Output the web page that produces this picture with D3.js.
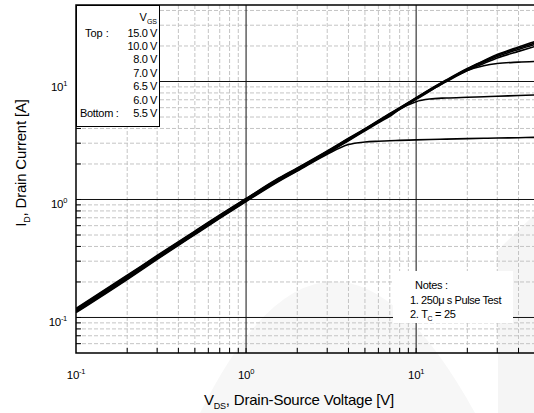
<!DOCTYPE html>
<html>
<head>
<meta charset="utf-8">
<script src="https://cdn.jsdelivr.net/npm/d3@7"></script>
<style>
    body { margin: 0; background: #fff; }
    svg text { font-family: "Liberation Sans", Arial, sans-serif; fill: #000; }
</style>
</head>
<body>
<div id="chart"></div>
<script>

// drain-source voltage sample points [V]
const vds = [0.1, 0.2, 0.3, 0.5, 0.7, 1, 1.5, 2, 3, 4, 5, 6, 7, 8, 10, 12, 15, 20, 25, 30, 40, 50];

// drain current [A] for each gate voltage
const idVgs150 = [0.119, 0.228, 0.335, 0.54, 0.74, 1.02, 1.47, 1.85, 2.58, 3.3, 3.98, 4.68, 5.35, 6.0, 7.3, 8.55, 10.3, 12.9, 15.0, 16.9, 19.6, 21.8];
const idVgs100 = [0.1175, 0.225, 0.331, 0.534, 0.731, 1.01, 1.455, 1.83, 2.55, 3.27, 3.95, 4.64, 5.31, 5.96, 7.25, 8.5, 10.2, 12.8, 14.85, 16.7, 19.2, 21.2];
const idVgs80 = [0.116, 0.222, 0.327, 0.528, 0.723, 1.0, 1.44, 1.81, 2.53, 3.24, 3.92, 4.6, 5.27, 5.92, 7.2, 8.45, 10.1, 12.65, 14.6, 16.3, 18.7, 20.6];
const idVgs70 = [0.1145, 0.219, 0.323, 0.522, 0.715, 0.99, 1.425, 1.79, 2.5, 3.21, 3.89, 4.57, 5.23, 5.87, 7.15, 8.35, 9.95, 12.4, 14.2, 15.8, 18.0, 19.8];
const idVgs65 = [0.113, 0.216, 0.319, 0.516, 0.707, 0.98, 1.41, 1.775, 2.48, 3.18, 3.86, 4.53, 5.18, 5.82, 7.05, 8.25, 10.05, 12.4, 13.6, 14.2, 14.6, 14.8];
const idVgs60 = [0.1115, 0.213, 0.315, 0.51, 0.699, 0.97, 1.395, 1.76, 2.46, 3.15, 3.82, 4.47, 5.08, 5.8, 6.75, 7.1, 7.25, 7.35, 7.42, 7.5, 7.6, 7.7];
const idVgs55 = [0.11, 0.21, 0.311, 0.504, 0.691, 0.96, 1.38, 1.74, 2.42, 2.92, 3.07, 3.12, 3.15, 3.17, 3.2, 3.22, 3.25, 3.28, 3.3, 3.32, 3.34, 3.36];

const curves = [idVgs150, idVgs100, idVgs80, idVgs70, idVgs65, idVgs60, idVgs55];

// legend / tick texts
const legendLabels = ["15.0 V", "10.0 V", "8.0 V", "7.0 V", "6.5 V", "6.0 V", "5.5 V"];
const xTickValues = [0.1, 1, 10];
const xTickExponents = ["-1", "0", "1"];
const yTickValues = [0.1, 1, 10];
const yTickExponents = ["-1", "0", "1"];


let svg = d3.select("#chart").append("svg")
    .attr("width", 534)
    .attr("height", 413);

// faint watermark behind everything
svg.append("path")
    .attr("d", "M 200 413 Q 330 150 475 413 Z")
    .attr("fill", "#f7f7f7");
svg.append("path")
    .attr("d", "M 498 413 L 498 250 L 534 215 L 534 413 Z")
    .attr("fill", "#f5f5f5");

let plot = {left: 76, top: 5, right: 535, bottom: 353};

let x = d3.scaleLog()
    .domain([0.1, 50])
    .range([plot.left, plot.right]);

let y = d3.scaleLog()
    .domain([0.05, 44.5])
    .range([plot.bottom, plot.top]);

// minor grid positions (2..9 in each decade)
let xMinor = [];
[0.1, 1, 10].forEach(d => {
    for (let k = 2; k <= 9; k++) if (k * d < 50) xMinor.push(k * d);
});
let yMinor = [];
[0.01, 0.1, 1, 10].forEach(d => {
    for (let k = 2; k <= 9; k++) if (k * d > 0.05 && k * d < 44.5) yMinor.push(k * d);
});

let grid = svg.append("g").attr("class", "grid");

grid.selectAll(".xminor")
    .data(xMinor)
    .enter().append("line")
    .attr("x1", d => x(d)).attr("x2", d => x(d))
    .attr("y1", plot.top).attr("y2", plot.bottom)
    .attr("stroke", "#c4c4c4")
    .attr("stroke-dasharray", "4,2");

grid.selectAll(".yminor")
    .data(yMinor)
    .enter().append("line")
    .attr("x1", plot.left).attr("x2", plot.right)
    .attr("y1", d => y(d)).attr("y2", d => y(d))
    .attr("stroke", "#c4c4c4")
    .attr("stroke-dasharray", "4,2");

grid.selectAll(".xmajor")
    .data([1, 10])
    .enter().append("line")
    .attr("x1", d => x(d)).attr("x2", d => x(d))
    .attr("y1", plot.top).attr("y2", plot.bottom)
    .attr("stroke", "#111");

grid.selectAll(".ymajor")
    .data(yTickValues)
    .enter().append("line")
    .attr("x1", plot.left).attr("x2", plot.right)
    .attr("y1", d => y(d)).attr("y2", d => y(d))
    .attr("stroke", "#111");

// curves
svg.append("clipPath").attr("id", "clip")
    .append("rect")
    .attr("x", plot.left).attr("y", plot.top)
    .attr("width", plot.right - plot.left).attr("height", plot.bottom - plot.top);

let line = d3.line()
    .x((d, i) => x(vds[i]))
    .y(d => y(d))
    .curve(d3.curveMonotoneX);

svg.append("g")
    .attr("clip-path", "url(#clip)")
    .selectAll("path")
    .data(curves)
    .enter().append("path")
    .attr("d", line)
    .attr("fill", "none")
    .attr("stroke", "#000")
    .attr("stroke-width", 1.6);

// frame
svg.append("path")
    .attr("d", `M ${plot.right} ${plot.top} H ${plot.left} V ${plot.bottom} H ${plot.right}`)
    .attr("fill", "none")
    .attr("stroke", "#000")
    .attr("stroke-width", 1.5);

// inner ticks
svg.selectAll(".xtick")
    .data(xMinor.concat([1, 10]))
    .enter().append("line")
    .attr("x1", d => x(d)).attr("x2", d => x(d))
    .attr("y1", plot.bottom).attr("y2", plot.bottom - 5)
    .attr("stroke", "#000");

svg.selectAll(".ytick")
    .data(yMinor.concat(yTickValues))
    .enter().append("line")
    .attr("x1", plot.left).attr("x2", plot.left + 5)
    .attr("y1", d => y(d)).attr("y2", d => y(d))
    .attr("stroke", "#000");

// tick labels
let xLabels = svg.selectAll(".xlabel")
    .data(xTickValues)
    .enter().append("text")
    .attr("x", d => x(d))
    .attr("y", 379)
    .attr("text-anchor", "middle")
    .attr("font-size", 11.5)
    .attr("letter-spacing", -0.3)
    .text("10");
xLabels.append("tspan")
    .attr("dy", -5)
    .attr("font-size", 7.5)
    .text((d, i) => xTickExponents[i]);

let yLabels = svg.selectAll(".ylabel")
    .data(yTickValues)
    .enter().append("text")
    .attr("x", 67)
    .attr("y", d => y(d) + 9)
    .attr("text-anchor", "end")
    .attr("font-size", 11.5)
    .attr("letter-spacing", -0.3)
    .text("10");
yLabels.append("tspan")
    .attr("dy", -5)
    .attr("font-size", 7.5)
    .text((d, i) => yTickExponents[i]);

// axis titles
let xTitle = svg.append("text")
    .attr("x", 299)
    .attr("y", 405)
    .attr("text-anchor", "middle")
    .attr("font-size", 15)
    .attr("letter-spacing", -0.2);
xTitle.append("tspan").text("V");
xTitle.append("tspan").attr("font-size", 9).attr("dy", 4).text("DS");
xTitle.append("tspan").attr("dy", -4).text(", Drain-Source Voltage [V]");

let yTitle = svg.append("text")
    .attr("transform", "translate(26,163) rotate(-90)")
    .attr("text-anchor", "middle")
    .attr("font-size", 15)
    .attr("letter-spacing", -0.2);
yTitle.append("tspan").text("I");
yTitle.append("tspan").attr("font-size", 9).attr("dy", 4).text("D");
yTitle.append("tspan").attr("dy", -4).text(", Drain Current [A]");

// legend box
let legend = svg.append("g");
legend.append("rect")
    .attr("x", 76.5).attr("y", 5.5)
    .attr("width", 83).attr("height", 121)
    .attr("fill", "#fff")
    .attr("stroke", "#000");

let vgs = legend.append("text")
    .attr("x", 157).attr("y", 21)
    .attr("text-anchor", "end")
    .attr("font-size", 11);
vgs.append("tspan").text("V");
vgs.append("tspan").attr("font-size", 7).attr("dy", 3).text("GS");

legend.selectAll(".lg")
    .data(legendLabels)
    .enter().append("text")
    .attr("x", 157)
    .attr("y", (d, i) => 36.5 + i * 13.4)
    .attr("text-anchor", "end")
    .attr("font-size", 11)
    .attr("letter-spacing", -0.4)
    .text(d => d);

legend.append("text").attr("x", 85).attr("y", 36.5).attr("font-size", 11).text("Top :");
legend.append("text").attr("x", 80).attr("y", 117).attr("font-size", 11).attr("letter-spacing", -0.3).text("Bottom :");

// notes box
let notes = svg.append("g");
notes.append("rect")
    .attr("x", 393).attr("y", 271)
    .attr("width", 120).attr("height", 52)
    .attr("fill", "#fff");
notes.append("text").attr("x", 415).attr("y", 289).attr("font-size", 11).attr("letter-spacing", -0.3).text("Notes :");
notes.append("text").attr("x", 410).attr("y", 304).attr("font-size", 11).attr("letter-spacing", -0.4).text("1. 250\u03bc s Pulse Test");
let note2 = notes.append("text").attr("x", 410).attr("y", 318).attr("font-size", 11).attr("letter-spacing", -0.3);
note2.append("tspan").text("2. T");
note2.append("tspan").attr("font-size", 7).attr("dy", 3).text("C");
note2.append("tspan").attr("dy", -3).text(" = 25");

</script>
</body>
</html>
